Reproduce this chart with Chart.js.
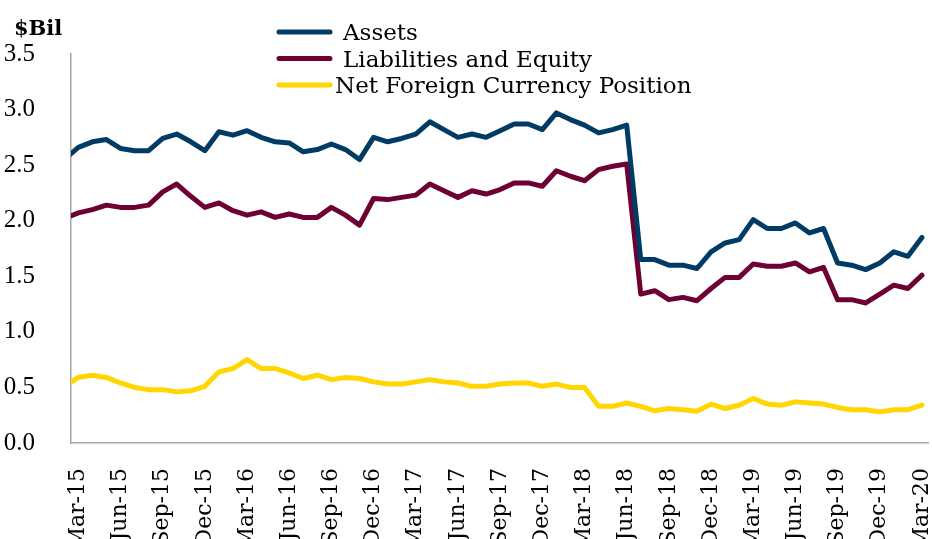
<!DOCTYPE html>
<html>
<head>
<meta charset="utf-8">
<script src="https://cdn.jsdelivr.net/npm/chart.js@4.4.0/dist/chart.umd.min.js"></script>
<style>
    html, body { margin: 0; padding: 0; background: #fff; }
</style>
</head>
<body>
<canvas id="grafico" width="932" height="539"></canvas>
<script>
// meses (Feb-15 queda fuera del eje, solo se ve el tramo recortado)
const meses = [
    'Feb-15', 'Mar-15', 'Apr-15', 'May-15', 'Jun-15', 'Jul-15', 'Aug-15', 'Sep-15', 'Oct-15', 'Nov-15', 'Dec-15',
    'Jan-16', 'Feb-16', 'Mar-16', 'Apr-16', 'May-16', 'Jun-16', 'Jul-16', 'Aug-16', 'Sep-16', 'Oct-16', 'Nov-16', 'Dec-16',
    'Jan-17', 'Feb-17', 'Mar-17', 'Apr-17', 'May-17', 'Jun-17', 'Jul-17', 'Aug-17', 'Sep-17', 'Oct-17', 'Nov-17', 'Dec-17',
    'Jan-18', 'Feb-18', 'Mar-18', 'Apr-18', 'May-18', 'Jun-18', 'Jul-18', 'Aug-18', 'Sep-18', 'Oct-18', 'Nov-18', 'Dec-18',
    'Jan-19', 'Feb-19', 'Mar-19', 'Apr-19', 'May-19', 'Jun-19', 'Jul-19', 'Aug-19', 'Sep-19', 'Oct-19', 'Nov-19', 'Dec-19',
    'Jan-20', 'Feb-20', 'Mar-20'
];

const assets = [
    2.55, 2.66, 2.71, 2.73, 2.65, 2.63, 2.63, 2.74, 2.78, 2.71, 2.63,
    2.80, 2.77, 2.81, 2.75, 2.71, 2.70, 2.62, 2.64, 2.69, 2.64, 2.55, 2.75,
    2.71, 2.74, 2.78, 2.89, 2.82, 2.75, 2.78, 2.75, 2.81, 2.87, 2.87, 2.82,
    2.97, 2.91, 2.86, 2.79, 2.82, 2.86, 1.65, 1.65, 1.60, 1.60, 1.57, 1.72,
    1.80, 1.83, 2.01, 1.93, 1.93, 1.98, 1.89, 1.93, 1.62, 1.60, 1.56, 1.62,
    1.72, 1.68, 1.85
];

const liabilities = [
    2.02, 2.07, 2.10, 2.14, 2.12, 2.12, 2.14, 2.26, 2.33, 2.22, 2.12,
    2.16, 2.09, 2.05, 2.08, 2.03, 2.06, 2.03, 2.03, 2.12, 2.05, 1.96, 2.20,
    2.19, 2.21, 2.23, 2.33, 2.27, 2.21, 2.27, 2.24, 2.28, 2.34, 2.34, 2.31,
    2.45, 2.40, 2.36, 2.46, 2.49, 2.51, 1.34, 1.37, 1.29, 1.31, 1.28, 1.39,
    1.49, 1.49, 1.61, 1.59, 1.59, 1.62, 1.54, 1.58, 1.29, 1.29, 1.26, 1.34,
    1.42, 1.39, 1.51
];

const netPosition = [
    0.51, 0.59, 0.61, 0.59, 0.54, 0.50, 0.48, 0.48, 0.46, 0.47, 0.51,
    0.64, 0.67, 0.75, 0.67, 0.67, 0.63, 0.58, 0.61, 0.57, 0.59, 0.58, 0.55,
    0.53, 0.53, 0.55, 0.57, 0.55, 0.54, 0.51, 0.51, 0.53, 0.54, 0.54, 0.51,
    0.53, 0.50, 0.50, 0.33, 0.33, 0.36, 0.33, 0.29, 0.31, 0.30, 0.285, 0.35,
    0.31, 0.34, 0.40, 0.35, 0.34, 0.37, 0.36, 0.35, 0.32, 0.30, 0.30, 0.28,
    0.30, 0.30, 0.34
];

const seriesNames = ['Assets', 'Liabilities and Equity', 'Net Foreign Currency Position'];
const seriesColors = ['#003B65', '#6E0033', '#FFD600'];
const tickMeses = ['Mar-15', 'Jun-15', 'Sep-15', 'Dec-15', 'Mar-16', 'Jun-16', 'Sep-16', 'Dec-16', 'Mar-17', 'Jun-17',
    'Sep-17', 'Dec-17', 'Mar-18', 'Jun-18', 'Sep-18', 'Dec-18', 'Mar-19', 'Jun-19', 'Sep-19', 'Dec-19', 'Mar-20'];
const yTicks = [0, 0.5, 1.0, 1.5, 2.0, 2.5, 3.0, 3.5];

const toPoints = (valores) => valores.map((v, i) => ({ x: i, y: v }));

const leyenda = {
    id: 'leyenda',
    afterDraw(chart) {
        const ctx = chart.ctx;
        ctx.save();
        chart.data.datasets.forEach((ds, i) => {
            const y = 32 + i * 26.5;
            ctx.strokeStyle = ds.borderColor;
            ctx.lineWidth = 5;
            ctx.lineCap = 'round';
            ctx.beginPath();
            ctx.moveTo(279, y);
            ctx.lineTo(330, y);
            ctx.stroke();
            ctx.fillStyle = '#000';
            ctx.font = '23px "DejaVu Serif"';
            ctx.textBaseline = 'alphabetic';
            ctx.fillText(ds.label, i === 2 ? 335 : 343, y + 8);
        });
        ctx.font = 'bold 21px "DejaVu Serif"';
        ctx.fillText('$Bil', 14, 35);
        ctx.restore();
    }
};

const chart = new Chart(document.getElementById('grafico'), {
    type: 'line',
    data: {
        datasets: [assets, liabilities, netPosition].map((serie, i) => ({
            label: seriesNames[i],
            data: toPoints(serie),
            borderColor: seriesColors[i],
            backgroundColor: seriesColors[i],
            borderWidth: 5,
            borderJoinStyle: 'round',
            borderCapStyle: 'round',
            pointRadius: 0,
            tension: 0,
            clip: { left: 0, right: 6, top: 6, bottom: 6 }
        }))
    },
    options: {
        responsive: false,
        animation: false,
        layout: { padding: { top: 54, right: 4, left: 0, bottom: 0 } },
        plugins: {
            legend: { display: false },
            tooltip: { enabled: false }
        },
        scales: {
            x: {
                type: 'linear',
                min: 0.48,
                max: 61.43,
                grid: { display: false },
                border: { display: true, color: '#a6a6a6', width: 1.5 },
                afterBuildTicks: (scale) => {
                    scale.ticks = tickMeses.map(m => ({ value: meses.indexOf(m) }));
                },
                afterFit: (scale) => {
                    scale.height = 96;
                    scale.paddingLeft = 0;
                    scale.paddingRight = 0;
                },
                ticks: {
                    autoSkip: false,
                    minRotation: 90,
                    maxRotation: 90,
                    padding: 17,
                    color: '#000',
                    font: { family: 'DejaVu Serif', size: 22 },
                    callback: (value) => meses[value]
                }
            },
            y: {
                min: 0,
                max: 3.5,
                grid: { display: false },
                border: { display: true, color: '#a6a6a6', width: 1.5 },
                afterBuildTicks: (scale) => {
                    scale.ticks = yTicks.map(v => ({ value: v }));
                },
                afterFit: (scale) => {
                    scale.width = 71;
                },
                ticks: {
                    padding: 28,
                    color: '#000',
                    font: { family: 'Liberation Serif', size: 25 },
                    callback: (value) => value.toFixed(1)
                }
            }
        }
    },
    plugins: [leyenda]
});
</script>
</body>
</html>
